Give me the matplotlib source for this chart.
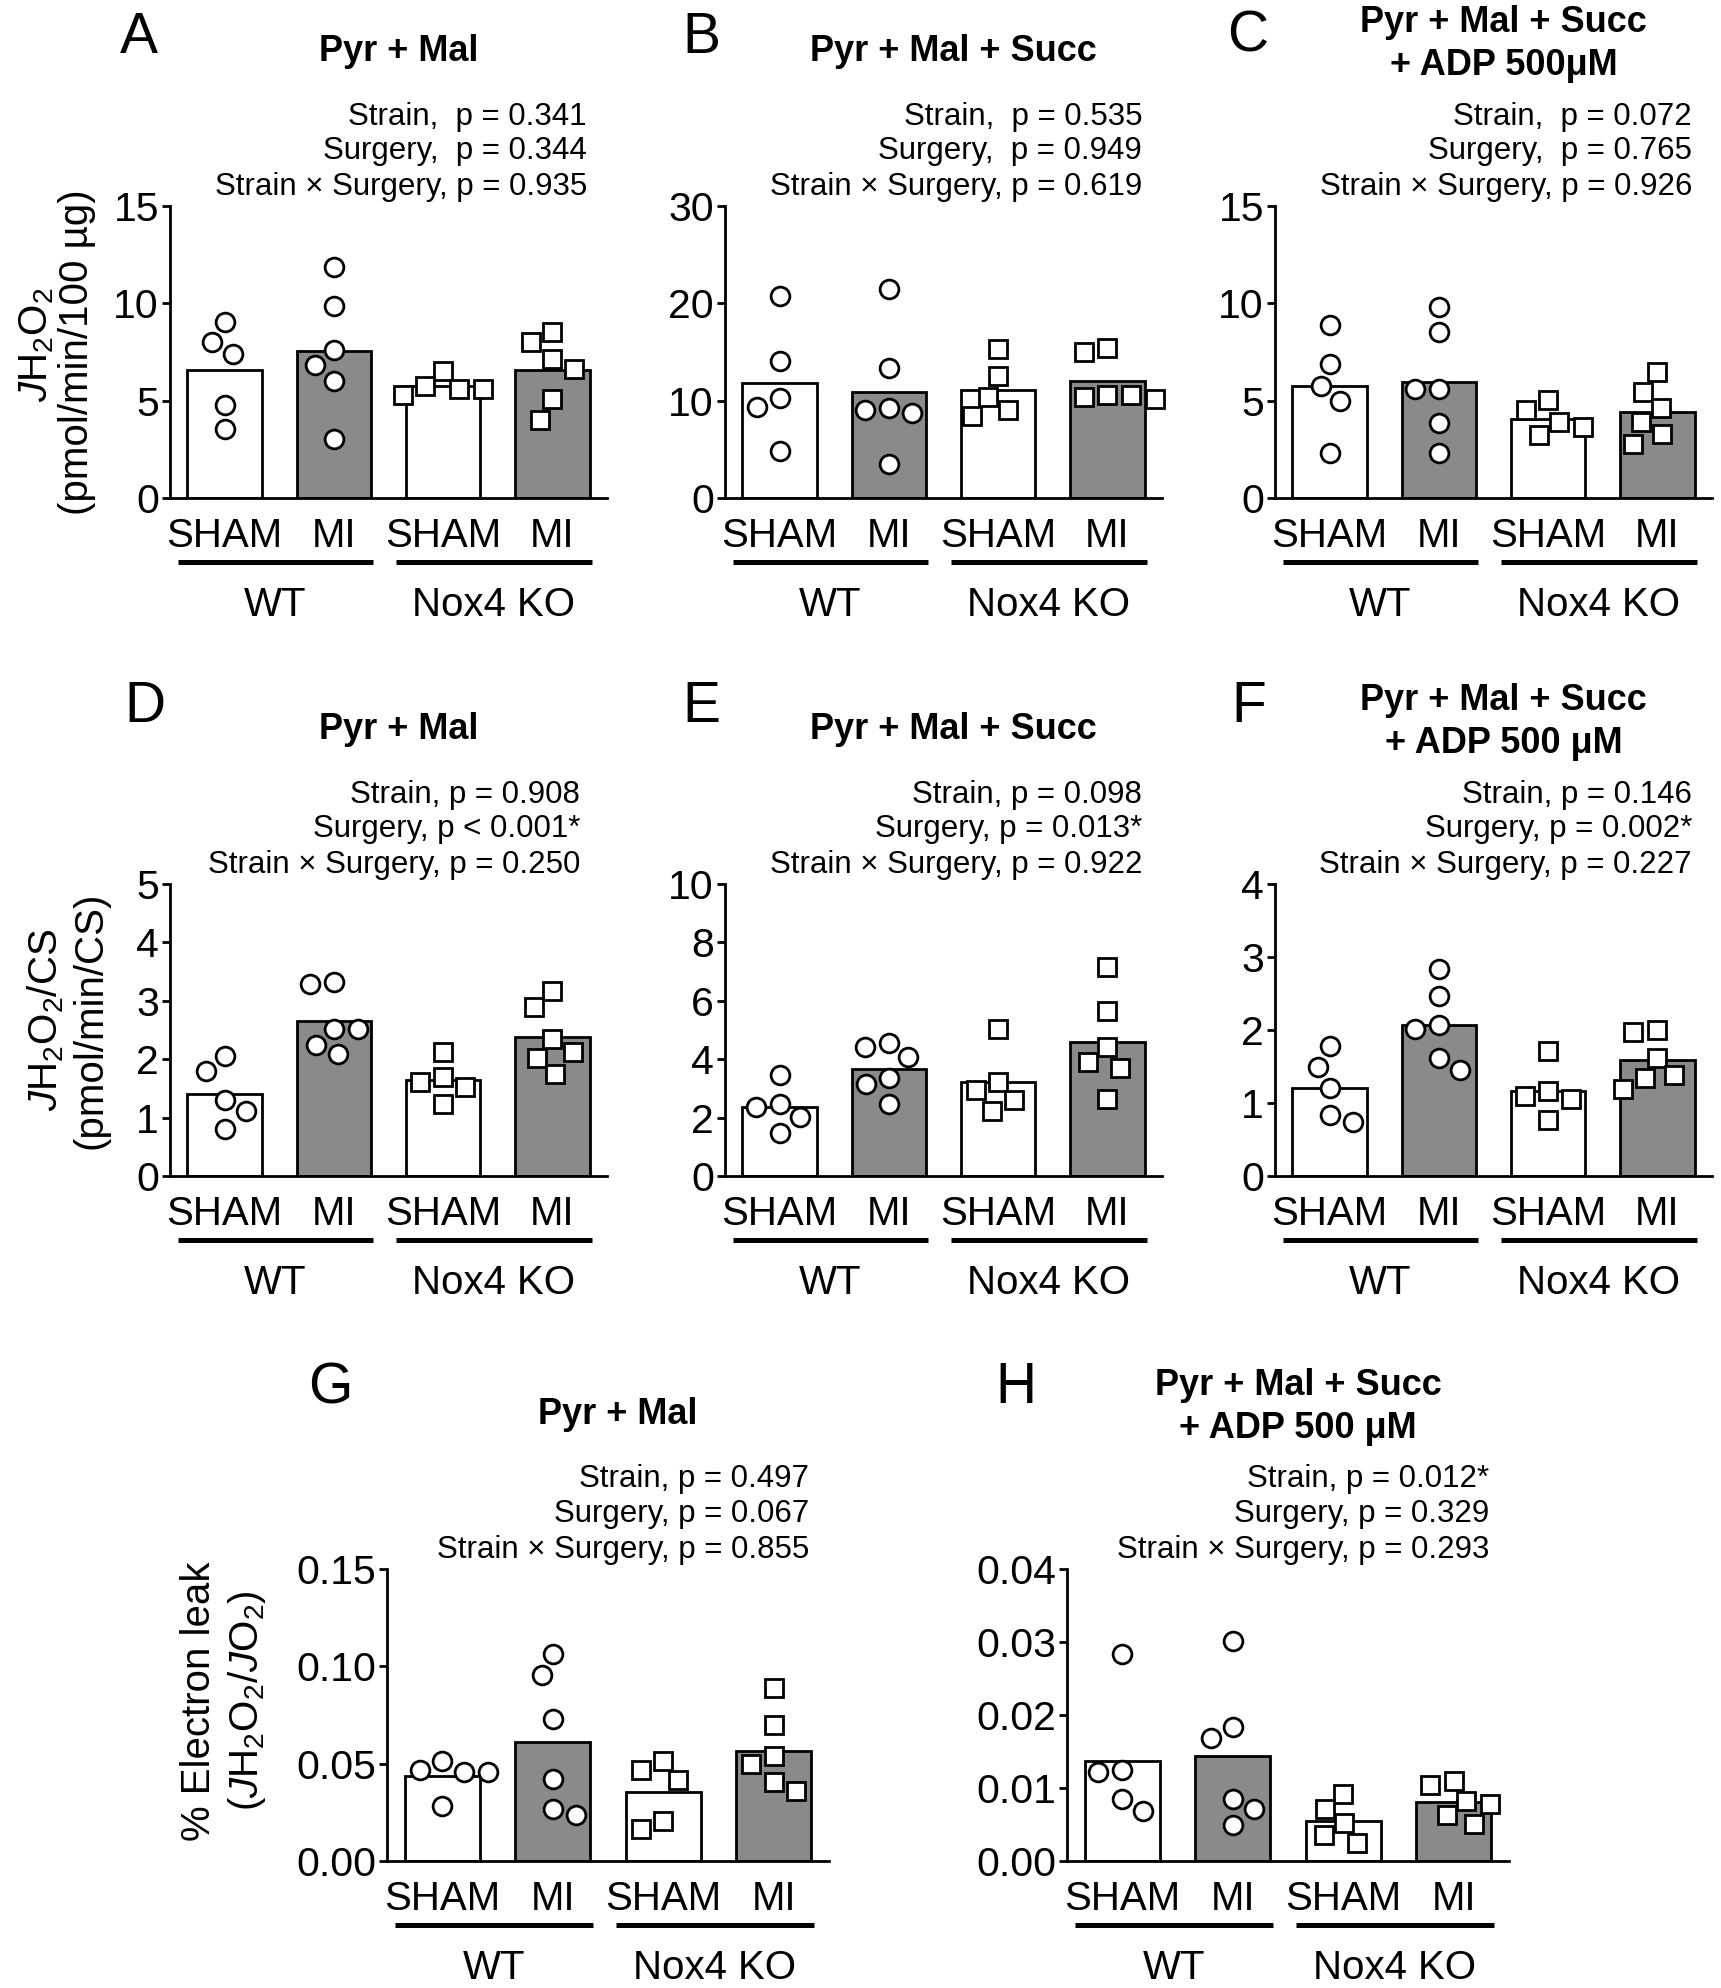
import numpy as np
import matplotlib
matplotlib.use("Agg")
import matplotlib.pyplot as plt

plt.rcParams["font.family"] = ["Liberation Sans", "DejaVu Sans"]
plt.rcParams["mathtext.fontset"] = "custom"
plt.rcParams["mathtext.rm"] = "Liberation Sans"
plt.rcParams["mathtext.it"] = "Liberation Sans:italic"
plt.rcParams["mathtext.bf"] = "Liberation Sans:bold"

# ---- data ----
conditions = ["SHAM", "MI", "SHAM", "MI"]
strains = ["WT", "Nox4 KO"]

a_pts = [[9.05, 8.0, 7.42, 4.79, 3.53],
         [11.89, 9.85, 7.58, 6.85, 6.0, 3.03],
         [6.53, 5.59, 5.27, 5.59, 5.74],
         [8.53, 8.0, 7.16, 6.64, 5.06, 4.01]]
b_pts = [[20.76, 14.03, 10.25, 9.37, 4.79],
         [21.47, 13.36, 9.29, 9.08, 8.78, 3.53],
         [15.29, 12.56, 10.34, 9.08, 8.45],
         [15.38, 14.96, 10.63, 10.55, 10.34, 10.13]]
c_pts = [[8.91, 6.89, 5.74, 4.96, 2.33],
         [9.79, 8.53, 5.59, 5.59, 3.87, 2.33],
         [5.01, 4.53, 3.92, 3.63, 3.25],
         [6.45, 5.45, 4.62, 3.92, 3.28, 2.77]]
d_pts = [[2.05, 1.79, 1.30, 1.11, 0.81],
         [3.32, 3.28, 2.52, 2.51, 2.25, 2.09],
         [2.12, 1.69, 1.61, 1.53, 1.23],
         [3.16, 2.90, 2.34, 2.12, 2.02, 1.74]]
e_pts = [[3.47, 2.45, 2.38, 2.03, 1.47],
         [4.55, 4.43, 4.06, 3.36, 3.15, 2.45],
         [5.03, 3.22, 2.94, 2.59, 2.24],
         [7.17, 5.66, 4.41, 3.92, 3.71, 2.62]]
f_pts = [[1.78, 1.49, 1.20, 0.83, 0.74],
         [2.83, 2.46, 2.07, 2.01, 1.61, 1.45],
         [1.71, 1.16, 1.10, 1.05, 0.77],
         [2.00, 1.97, 1.62, 1.38, 1.34, 1.19]]
g_pts = [[0.0513, 0.0466, 0.0456, 0.0456, 0.0282],
         [0.1065, 0.0954, 0.0729, 0.0420, 0.0267, 0.0235],
         [0.0513, 0.0466, 0.0414, 0.0208, 0.0162],
         [0.0887, 0.0697, 0.0540, 0.0498, 0.0408, 0.0361]]
h_pts = [[0.0283, 0.0124, 0.0122, 0.0085, 0.0068],
         [0.0302, 0.0183, 0.0168, 0.0085, 0.0071, 0.0050],
         [0.0092, 0.0071, 0.0052, 0.0035, 0.0024],
         [0.0110, 0.0104, 0.0082, 0.0078, 0.0063, 0.0051]]

title_pm = ["Pyr + Mal"]
title_pms = ["Pyr + Mal + Succ"]
title_adp_c = ["Pyr + Mal + Succ", "+ ADP 500\u03bcM"]
title_adp = ["Pyr + Mal + Succ", "+ ADP 500 \u03bcM"]

a_p = ["Strain,  p = 0.341", "Surgery,  p = 0.344", "Strain \u00d7 Surgery, p = 0.935"]
b_p = ["Strain,  p = 0.535", "Surgery,  p = 0.949", "Strain \u00d7 Surgery, p = 0.619"]
c_p = ["Strain,  p = 0.072", "Surgery,  p = 0.765", "Strain \u00d7 Surgery, p = 0.926"]
d_p = ["Strain, p = 0.908", "Surgery, p < 0.001*", "Strain \u00d7 Surgery, p = 0.250"]
e_p = ["Strain, p = 0.098", "Surgery, p = 0.013*", "Strain \u00d7 Surgery, p = 0.922"]
f_p = ["Strain, p = 0.146", "Surgery, p = 0.002*", "Strain \u00d7 Surgery, p = 0.227"]
g_p = ["Strain, p = 0.497", "Surgery, p = 0.067", "Strain \u00d7 Surgery, p = 0.855"]
h_p = ["Strain, p = 0.012*", "Surgery, p = 0.329", "Strain \u00d7 Surgery, p = 0.293"]

ylab_a = [r"$\mathit{J}$H$_2$O$_2$", "(pmol/min/100 \u00b5g)"]
ylab_d = [r"$\mathit{J}$H$_2$O$_2$/CS", "(pmol/min/CS)"]
ylab_g = ["% Electron leak", r"($\mathit{J}$H$_2$O$_2$/$\mathit{J}$O$_2$)"]

# ---- layout (pixels of the 1721 x 1988 canvas) ----
W, H = 1721, 1988
fig = plt.figure(figsize=(W / 100, H / 100), dpi=100)

GREY = "#8a8a8a"
DOT = 24.0          # spacing of the dot swarm, px
TICK_FS = 29.5
CAT_FS = 29
TITLE_FS = 26
P_FS = 22.5
LETTER_FS = 41


def fx(px):
    return px / W


def fy(py):
    return 1 - py / H


def swarm(vals, px_per_unit, diam):
    # simple beeswarm, offsets in px
    ys = np.asarray(vals, dtype=float) * px_per_unit
    order = np.argsort(-ys, kind="stable")
    xs = np.zeros(len(ys))
    placed = []
    for i in order:
        y = ys[i]
        cands = [0.0]
        for px, py in placed:
            dy = abs(y - py)
            if dy < diam:
                dx = np.sqrt(diam ** 2 - dy ** 2)
                cands += [px - dx, px + dx]
        ok = [c for c in cands
              if all((c - px) ** 2 + (y - py) ** 2 >= diam ** 2 - 1e-6 for px, py in placed)]
        n_left = sum(1 for px, _ in placed if px < -1e-6)
        n_right = sum(1 for px, _ in placed if px > 1e-6)
        if n_left <= n_right:
            best = min(ok, key=lambda c: (round(abs(c), 3), c > 0))
        else:
            best = min(ok, key=lambda c: (round(abs(c), 3), c < 0))
        xs[i] = best
        placed.append((best, y))
    return xs


def draw_panel(box, pts, ymax, yticks, fmt, letter, letter_xy, title, p_lines,
               p_right, ylab=None, ylab_pos=None):
    left, top, width, height = box
    bottom = top + height
    ax = fig.add_axes([fx(left), fy(bottom), width / W, height / H])
    xpos = np.arange(4)
    means = [np.mean(p) for p in pts]
    ax.bar(xpos, means, width=0.68, color=["white", GREY, "white", GREY],
           edgecolor="black", linewidth=2.0, zorder=2)
    sx = width / 4.0
    sy = height / ymax
    for i, vals in enumerate(pts):
        off = swarm(vals, sy, DOT) / sx
        ax.plot(i + off, vals, ls="none", marker="o" if i < 2 else "s",
                ms=13.5 if i < 2 else 12.5, mfc="white", mec="black", mew=2.0,
                zorder=3, clip_on=False)
    ax.set_xlim(-0.5, 3.5)
    ax.set_ylim(0, ymax)
    ax.spines["top"].set_visible(False)
    ax.spines["right"].set_visible(False)
    ax.spines["left"].set_linewidth(2.0)
    ax.spines["bottom"].set_linewidth(2.0)
    ax.set_xticks([])
    ax.set_yticks(yticks)
    ax.set_yticklabels([fmt.format(t) for t in yticks], fontsize=TICK_FS)
    ax.tick_params(axis="y", length=6, width=2.0, pad=2)

    def xp(u):
        return left + (u + 0.5) * sx

    # condition labels and strain groups
    for i, c in enumerate(conditions):
        fig.text(fx(xp(i)), fy(bottom + 49), c, ha="center", va="baseline", fontsize=CAT_FS)
    line_tr = ax.get_xaxis_transform() + matplotlib.transforms.ScaledTranslation(
        0, -64 / 100, fig.dpi_scale_trans)
    for g, s in enumerate(strains):
        x0 = xp(2 * g - 0.43)
        x1 = xp(2 * g + 1.36)
        ax.plot([2 * g - 0.43, 2 * g + 1.36], [0, 0], color="black", lw=3.6,
                solid_capstyle="butt", clip_on=False, transform=line_tr)
        fig.text(fx((x0 + x1) / 2), fy(bottom + 118), s, ha="center", va="baseline", fontsize=CAT_FS)

    # panel letter
    fig.text(fx(letter_xy[0]), fy(letter_xy[1]), letter, ha="left", va="baseline",
             fontsize=LETTER_FS)

    # title
    tx = left + width / 2 + 10
    if len(title) == 1:
        fig.text(fx(tx), fy(top - 145), title[0], ha="center", va="baseline",
                 fontsize=TITLE_FS, fontweight="bold")
    else:
        for line, dy in zip(title, [174, 131]):
            fig.text(fx(tx), fy(top - dy), line, ha="center", va="baseline",
                     fontsize=TITLE_FS, fontweight="bold")

    # statistics
    for line, dy in zip(p_lines, [81.5, 47, 11]):
        fig.text(fx(p_right), fy(top - dy), line, ha="right", va="baseline", fontsize=P_FS)

    if ylab is not None:
        for line, (bx, cy) in zip(ylab, ylab_pos):
            fig.text(fx(bx), fy(cy), line, rotation=90, rotation_mode="anchor",
                     ha="center", va="baseline", fontsize=CAT_FS)
    return ax


W1 = 437
W3 = 442
HT = 292

draw_panel((170, 206, W1, HT), a_pts, 15, [0, 5, 10, 15], "{:g}", "A", (120, 53),
           title_pm, a_p, 170 + W1 - 20, ylab_a, [(47, 345), (88, 352)])
draw_panel((725, 206, W1, HT), b_pts, 30, [0, 10, 20, 30], "{:g}", "B", (682, 53),
           title_pms, b_p, 725 + W1 - 20)
draw_panel((1275, 206, W1, HT), c_pts, 15, [0, 5, 10, 15], "{:g}", "C", (1227, 51),
           title_adp_c, c_p, 1275 + W1 - 20)

draw_panel((170, 884, W1, HT), d_pts, 5, [0, 1, 2, 3, 4, 5], "{:g}", "D", (124, 722),
           title_pm, d_p, 170 + W1 - 27, ylab_d, [(57, 1020), (101, 1020)])
draw_panel((725, 884, W1, HT), e_pts, 10, [0, 2, 4, 6, 8, 10], "{:g}", "E", (682, 722),
           title_pms, e_p, 725 + W1 - 20)
draw_panel((1275, 884, W1, HT), f_pts, 4, [0, 1, 2, 3, 4], "{:g}", "F", (1231, 722),
           title_adp, f_p, 1275 + W1 - 20)

draw_panel((387, 1569, W3, HT), g_pts, 0.15, [0, 0.05, 0.10, 0.15], "{:.2f}", "G", (308, 1403),
           title_pm, g_p, 387 + W3 - 20, ylab_g, [(210, 1701), (258, 1701)])
draw_panel((1067, 1569, W3, HT), h_pts, 0.04, [0, 0.01, 0.02, 0.03, 0.04], "{:.2f}", "H", (995, 1403),
           title_adp, h_p, 1067 + W3 - 20)

fig.savefig("out.png", dpi=100)
